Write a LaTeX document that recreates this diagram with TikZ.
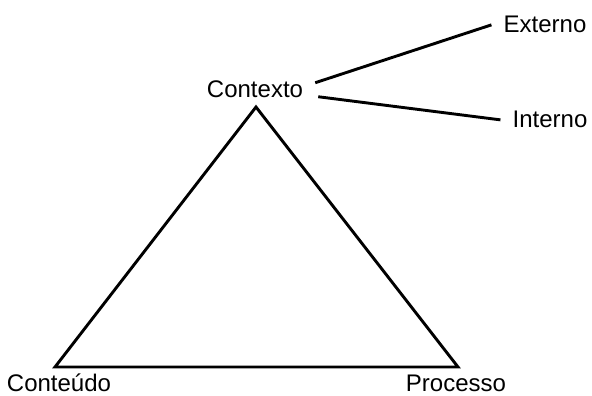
\documentclass[tikz,border=0pt]{standalone}
\usepackage{fontspec}
\setmainfont{Liberation Sans}
\usetikzlibrary{calc}

\begin{document}
\begin{tikzpicture}[
  x=1pt, y=-1pt,
  lbl/.style={font=\fontsize{24}{28}\selectfont, inner xsep=12pt, inner ysep=0pt, anchor=base},
  edge/.style={line width=2.9pt, line join=miter}]
\useasboundingbox (0,0) rectangle (592,396);
% labels
\node[lbl] (ctx) at (255,97) {Contexto};
\node[lbl] (ext) at (545,33) {Externo};
\node[lbl] (int) at (550,128) {Interno};
\node[lbl] (cont) at (59,391) {Conteúdo};
\node[lbl] (proc) at (456,391) {Processo};
% triangle corners
\coordinate (top) at (256,107);
\coordinate (left) at (55,367);
\coordinate (right) at (458,367);
\draw[edge] (top) -- (right) -- (left) -- cycle;
% branches
\draw[edge] ([yshift=6pt]ctx.east) -- (ext.west);
\draw[edge] ([xshift=3pt,yshift=-8pt]ctx.east) -- (int.west);
\end{tikzpicture}
\end{document}
